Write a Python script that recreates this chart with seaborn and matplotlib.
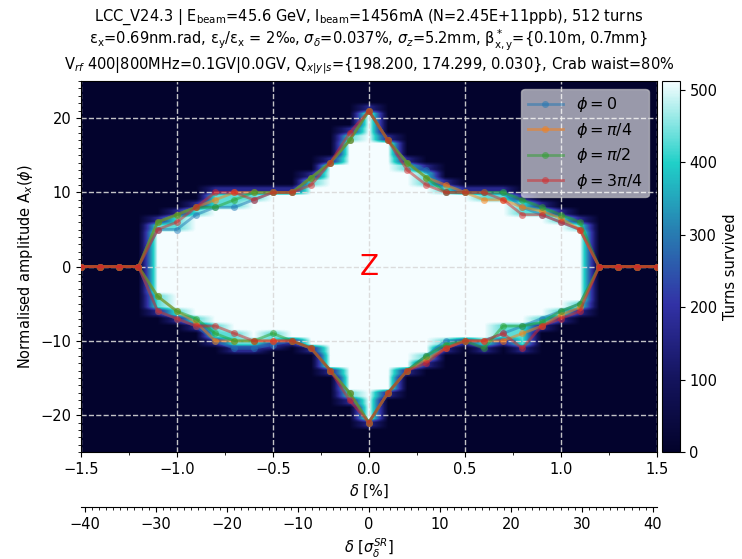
import numpy as np
import pandas as pd
import matplotlib
matplotlib.use("Agg")
import matplotlib.pyplot as plt
from matplotlib.colors import LinearSegmentedColormap
from matplotlib.ticker import MultipleLocator, FixedLocator
import seaborn as sns

# ---------------- data ----------------
delta = [-1.5, -1.4, -1.3, -1.2, -1.1, -1.0, -0.9, -0.8, -0.7, -0.6, -0.5,
         -0.4, -0.3, -0.2, -0.1, 0.0, 0.1, 0.2, 0.3, 0.4, 0.5, 0.6, 0.7,
         0.8, 0.9, 1.0, 1.1, 1.2, 1.3, 1.4, 1.5]
phi_labels = [r"$\phi = 0$", r"$\phi = \pi/4$", r"$\phi = \pi/2$", r"$\phi = 3\pi/4$"]

# upper border (positive amplitude)
up_phi0   = [0, 0, 0, 0, 5, 5, 7, 8, 8, 9, 10, 10, 12, 14, 17, 21, 17, 14, 13, 10, 10, 10, 10, 8, 7, 6, 5, 0, 0, 0, 0]
up_phi45  = [0, 0, 0, 0, 6, 7, 8, 9, 10, 10, 10, 10, 12, 14, 17, 21, 17, 14, 12, 11, 10, 9, 9, 8, 7.5, 6.5, 5, 0, 0, 0, 0]
up_phi90  = [0, 0, 0, 0, 6, 7, 8, 8, 9, 10, 10, 10, 12, 14, 17, 21, 17, 14, 12, 10, 10, 10, 10, 9, 8, 7, 6, 0, 0, 0, 0]
up_phi135 = [0, 0, 0, 0, 5, 6, 8, 10, 10, 9, 10, 10, 11, 14, 18, 21, 17, 13, 11, 10, 10, 10, 9, 7, 7, 6, 5, 0, 0, 0, 0]

# lower border (negative amplitude)
lo_phi0   = [0, 0, 0, 0, -6, -7, -8, -10, -11, -11, -10.5, -10, -11, -14, -17, -21, -17, -14, -12, -10, -10, -10, -9, -8, -7, -6, -5, 0, 0, 0, 0]
lo_phi45  = [0, 0, 0, 0, -4, -6, -7.5, -10, -10, -10, -10, -10, -11, -14, -17, -21, -17, -14, -12.5, -11, -10, -10, -10, -9, -8, -6.5, -5.5, 0, 0, 0, 0]
lo_phi90  = [0, 0, 0, 0, -4, -6, -7, -9, -10, -10, -9, -10, -11, -14, -17, -21, -17, -14, -12, -10.5, -10, -11, -8, -8, -7.5, -6, -5, 0, 0, 0, 0]
lo_phi135 = [0, 0, 0, 0, -6, -7, -8, -8, -9, -10, -10, -10, -11, -14, -18, -21, -17, -14, -13, -11, -10, -10, -9, -11, -8, -7, -6, 0, 0, 0, 0]

sigma_delta = 0.037  # %
turns_max = 512
sec_ticks = [-40, -30, -20, -10, 0, 10, 20, 30, 40]

# --------------- build frames ---------------
ups = [up_phi0, up_phi45, up_phi90, up_phi135]
los = [lo_phi0, lo_phi45, lo_phi90, lo_phi135]
rows = []
for lab, u, l in zip(phi_labels, ups, los):
    for d, a in zip(delta, u):
        rows.append(dict(delta=d, A=a, phi=lab, side="up"))
    for d, a in zip(delta, l):
        rows.append(dict(delta=d, A=a, phi=lab, side="lo"))
df = pd.DataFrame(rows)

# turns-survived map derived from the borders (upper / lower half separately)
up_arr = np.array(ups, dtype=float)
lo_arr = -np.array(los, dtype=float)
amp_grid = np.arange(-25, 25.01, 0.5)
turns = np.zeros((len(amp_grid), len(delta)))
for j in range(len(delta)):
    for i, a in enumerate(amp_grid):
        arr = up_arr if a >= 0 else lo_arr
        e_min, e_max = arr[:, j].min(), arr[:, j].max()
        r = abs(a)
        if r < e_min:
            v = turns_max
        elif r < e_max:
            v = 430
        elif r < e_max + 1.0 and e_max > 0:
            v = 170
        else:
            v = 5
        turns[i, j] = v

# --------------- plot ---------------
fig = plt.figure(figsize=(7.42, 5.59), dpi=100)
ax = fig.add_axes([0.109, 0.191, 0.776, 0.664])
cax = fig.add_axes([0.892, 0.191, 0.024, 0.664])

cmap = LinearSegmentedColormap.from_list(
    "turns",
    [(0.0, "#03032b"), (0.2, "#14145e"), (0.4, "#3232a6"),
     (0.6, "#2780b2"), (0.78, "#20d0c8"), (1.0, "#f5fdff")])

im = ax.imshow(turns, origin="lower", aspect="auto", cmap=cmap, vmin=0, vmax=turns_max,
               extent=(delta[0] - 0.05, delta[-1] + 0.05, amp_grid[0] - 0.25, amp_grid[-1] + 0.25),
               interpolation="bilinear", zorder=0)

palette = dict(zip(phi_labels, sns.color_palette("tab10", 4)))
sns.lineplot(data=df, x="delta", y="A", hue="phi", units="side", estimator=None,
             sort=False, marker="o", markersize=5, markeredgewidth=0, linewidth=2,
             alpha=0.5, palette=palette, ax=ax, zorder=3)

ax.text(0, 0, "Z", color="red", fontsize=20, ha="center", va="center", zorder=4)

ax.set_xlim(-1.5, 1.5)
ax.set_ylim(-25, 25)
ax.xaxis.set_major_locator(MultipleLocator(0.5))
ax.xaxis.set_minor_locator(MultipleLocator(0.25))
ax.yaxis.set_major_locator(MultipleLocator(10))
ax.yaxis.set_minor_locator(MultipleLocator(1))
ax.grid(True, which="major", color="0.85", linestyle="--", linewidth=1, alpha=0.9)
ax.tick_params(labelsize=10.5)
ax.set_xlabel(r"$\delta$ [%]", fontsize=10.5)
ax.set_ylabel(r"Normalised amplitude A$_x$($\phi$)", fontsize=10.5)

leg = ax.legend(loc="upper right", fontsize=11.5, framealpha=0.6, facecolor="white",
                edgecolor="0.8", borderpad=0.4, handlelength=2.2, labelspacing=0.4)
for h in leg.legend_handles:
    h.set_alpha(0.5)

sec = ax.secondary_xaxis(-0.147, functions=(lambda d: d / sigma_delta, lambda s: s * sigma_delta))
sec.xaxis.set_major_locator(FixedLocator(sec_ticks))
sec.xaxis.set_minor_locator(MultipleLocator(1))
sec.tick_params(labelsize=10.5)
sec.set_xlabel(r"$\delta$ [$\sigma_\delta^{SR}$]", fontsize=10.5)

cb = fig.colorbar(im, cax=cax)
cb.set_ticks([0, 100, 200, 300, 400, 500])
cb.ax.tick_params(labelsize=10.5)
cb.set_label("Turns survived", fontsize=10.5)

title = ("LCC_V24.3 | E$_{\\mathrm{beam}}$=45.6 GeV, I$_{\\mathrm{beam}}$=1456mA (N=2.45E+11ppb), 512 turns\n"
         "ε$_{\\mathrm{x}}$=0.69nm.rad, ε$_{\\mathrm{y}}$/ε$_{\\mathrm{x}}$ = 2‰, $\\sigma_\\delta$=0.037%, "
         "$\\sigma_z$=5.2mm, β$^*_{\\mathrm{x,y}}$={0.10m, 0.7mm}\n"
         "V$_{rf}$ 400|800MHz=0.1GV|0.0GV, Q$_{x|y|s}$={198.200, 174.299, 0.030}, Crab waist=80%")
ax.set_title(title, fontsize=10.5, pad=9, linespacing=1.1)

fig.savefig("out.png", dpi=100)
